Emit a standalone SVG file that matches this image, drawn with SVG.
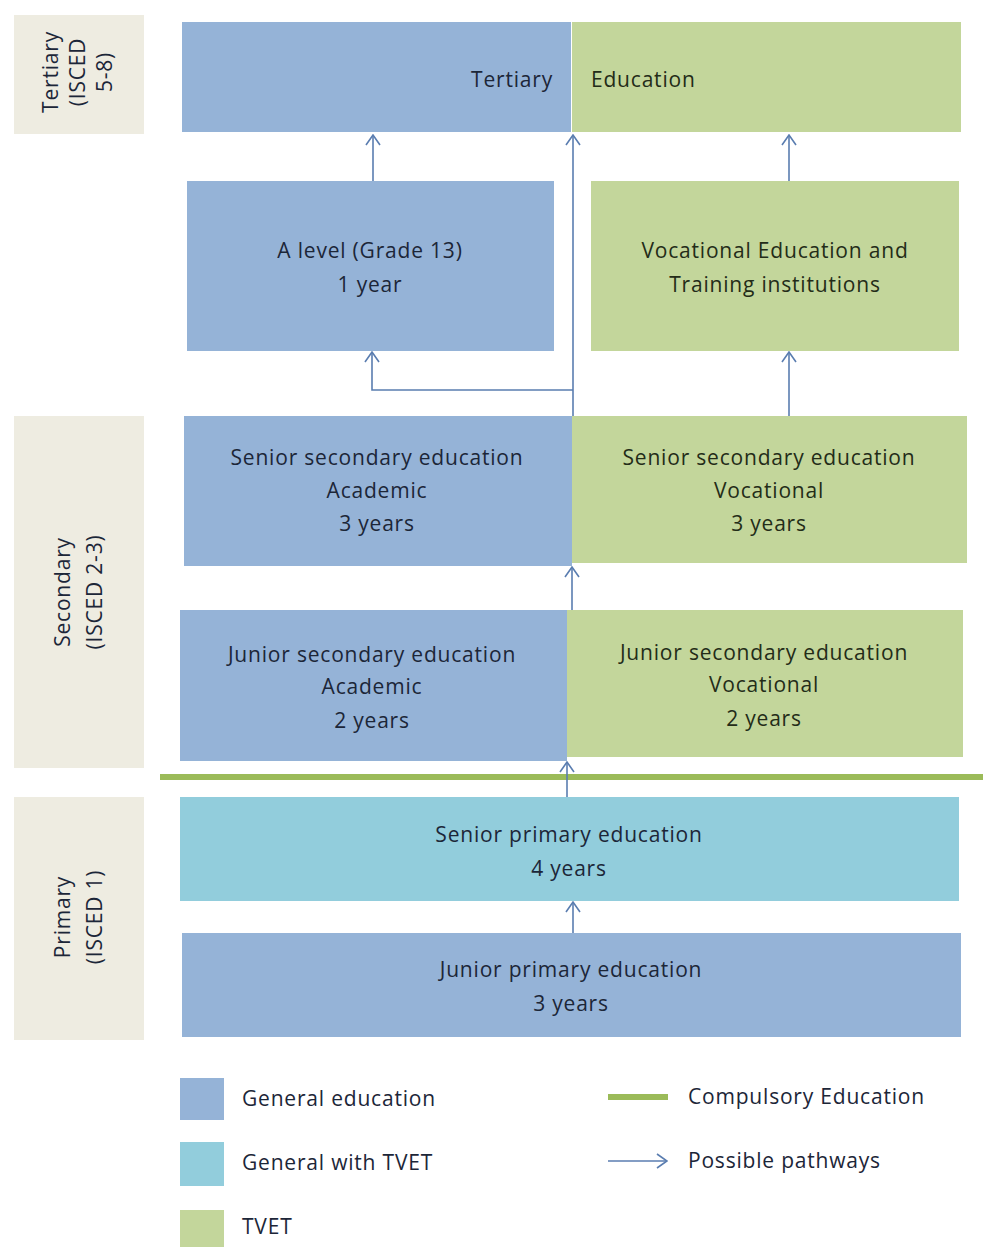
<svg xmlns="http://www.w3.org/2000/svg" width="983" height="1247" viewBox="0 0 983 1247">
<defs>
<style>
.gen{fill:#95B3D7}
.tvet{fill:#C3D69B}
.gtv{fill:#92CDDC}
.side{fill:#EEECE1}
text{font-family:"Open Sans","Liberation Sans",sans-serif;font-size:21px;letter-spacing:0.8px;fill:#1C2638}
.g text{fill:#232C18}
.c{text-anchor:middle}
.conn{stroke:#5A7DB0;stroke-width:1.6;fill:none}
.comp{stroke:#9BBB59;stroke-width:6}
</style>
<marker id="ah" markerUnits="userSpaceOnUse" viewBox="0 0 12 16" refX="11" refY="8" markerWidth="12" markerHeight="16" orient="auto">
<path d="M1,1 L11,8 L1,15" fill="none" stroke="#5A7DB0" stroke-width="1.6"/>
</marker>
</defs>
<rect width="983" height="1247" fill="#FFFFFF"/>

<g id="label-tertiary">
<rect class="side" x="14" y="15" width="130" height="119"/>
<text class="c" transform="translate(50,72) rotate(-90)" dominant-baseline="central">Tertiary</text>
<text class="c" transform="translate(77,72) rotate(-90)" dominant-baseline="central">(ISCED</text>
<text class="c" transform="translate(104,72) rotate(-90)" dominant-baseline="central">5-8)</text>
</g>
<g id="label-secondary">
<rect class="side" x="14" y="416" width="130" height="352"/>
<text class="c" transform="translate(62,592) rotate(-90)" dominant-baseline="central">Secondary</text>
<text class="c" transform="translate(94,592) rotate(-90)" dominant-baseline="central">(ISCED 2-3)</text>
</g>
<g id="label-primary">
<rect class="side" x="14" y="797" width="130" height="243"/>
<text class="c" transform="translate(62,917) rotate(-90)" dominant-baseline="central">Primary</text>
<text class="c" transform="translate(94,917) rotate(-90)" dominant-baseline="central">(ISCED 1)</text>
</g>

<g id="tertiary-education">
<rect class="gen" x="182" y="22" width="389" height="110"/>
<rect class="tvet" x="572" y="22" width="389" height="110"/>
<text x="553" y="87" text-anchor="end">Tertiary</text>
<text x="591" y="87" fill="#232C18" style="fill:#232C18">Education</text>
</g>
<g id="a-level">
<rect class="gen" x="187" y="181" width="367" height="170"/>
<text class="c" x="370" y="258">A level (Grade 13)</text>
<text class="c" x="370" y="292">1 year</text>
</g>
<g id="vet-institutions" class="g">
<rect class="tvet" x="591" y="181" width="368" height="170"/>
<text class="c" x="775" y="258">Vocational Education and</text>
<text class="c" x="775" y="292">Training institutions</text>
</g>
<g id="senior-secondary-academic">
<rect class="gen" x="184" y="416" width="388" height="150"/>
<text class="c" x="377" y="465">Senior secondary education</text>
<text class="c" x="377" y="498">Academic</text>
<text class="c" x="377" y="531">3 years</text>
</g>
<g id="senior-secondary-vocational" class="g">
<rect class="tvet" x="572" y="416" width="395" height="147"/>
<text class="c" x="769" y="465">Senior secondary education</text>
<text class="c" x="769" y="498">Vocational</text>
<text class="c" x="769" y="531">3 years</text>
</g>
<g id="junior-secondary-academic">
<rect class="gen" x="180" y="610" width="387" height="151"/>
<text class="c" x="372" y="662">Junior secondary education</text>
<text class="c" x="372" y="694">Academic</text>
<text class="c" x="372" y="728">2 years</text>
</g>
<g id="junior-secondary-vocational" class="g">
<rect class="tvet" x="567" y="610" width="396" height="147"/>
<text class="c" x="764" y="660">Junior secondary education</text>
<text class="c" x="764" y="692">Vocational</text>
<text class="c" x="764" y="726">2 years</text>
</g>
<g id="compulsory-line">
<line class="comp" x1="160" y1="777" x2="983" y2="777"/>
</g>
<g id="senior-primary">
<rect class="gtv" x="180" y="797" width="779" height="104"/>
<text class="c" x="569" y="842">Senior primary education</text>
<text class="c" x="569" y="876">4 years</text>
</g>
<g id="junior-primary">
<rect class="gen" x="182" y="933" width="779" height="104"/>
<text class="c" x="571" y="977">Junior primary education</text>
<text class="c" x="571" y="1011">3 years</text>
</g>

<g id="connectors">
<line class="conn" x1="373" y1="181" x2="373" y2="135" marker-end="url(#ah)"/>
<line class="conn" x1="573" y1="416" x2="573" y2="135" marker-end="url(#ah)"/>
<polyline class="conn" points="573,390 372,390 372,352" marker-end="url(#ah)"/>
<line class="conn" x1="789" y1="181" x2="789" y2="135" marker-end="url(#ah)"/>
<line class="conn" x1="789" y1="416" x2="789" y2="352" marker-end="url(#ah)"/>
<line class="conn" x1="572" y1="610" x2="572" y2="567" marker-end="url(#ah)"/>
<line class="conn" x1="567" y1="797" x2="567" y2="762" marker-end="url(#ah)"/>
<line class="conn" x1="573" y1="933" x2="573" y2="902" marker-end="url(#ah)"/>
</g>

<g id="legend">
<rect class="gen" x="180" y="1078" width="44" height="42"/>
<text x="242" y="1106">General education</text>
<rect class="gtv" x="180" y="1142" width="44" height="44"/>
<text x="242" y="1170">General with TVET</text>
<rect class="tvet" x="180" y="1210" width="44" height="37"/>
<text x="242" y="1234">TVET</text>
<line class="comp" x1="608" y1="1097" x2="668" y2="1097"/>
<text x="688" y="1104">Compulsory Education</text>
<line class="conn" x1="608" y1="1161" x2="667" y2="1161" marker-end="url(#ah)"/>
<text x="688" y="1168">Possible pathways</text>
</g>
</svg>
